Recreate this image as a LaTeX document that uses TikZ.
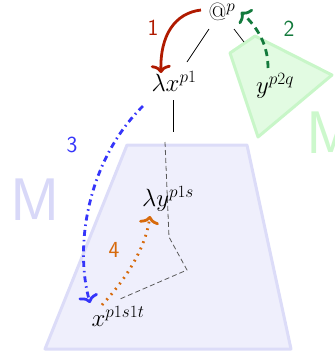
\documentclass[tikz,border=0pt]{standalone}
\usetikzlibrary{arrows.meta}
\definecolor{redA}{HTML}{B01A00}
\definecolor{greenA}{HTML}{137A3C}
\definecolor{blueA}{HTML}{3535FA}
\definecolor{orangeA}{HTML}{D76A0C}
\definecolor{lavFill}{HTML}{EFEFFC}
\definecolor{lavLine}{HTML}{DCDCF8}
\definecolor{lavM}{HTML}{D8D8F8}
\definecolor{grnFill}{HTML}{E2FBE2}
\definecolor{grnLine}{HTML}{C8F6C8}
\definecolor{grnM}{HTML}{CCF8CC}
\tikzset{
  term/.style={inner sep=0pt, font=\fontsize{25}{30}\selectfont},
  numlabel/.style={inner sep=0pt, font=\sffamily\fontsize{23}{27}\selectfont},
  bigM/.style={inner sep=0pt, font=\sffamily\fontsize{60}{60}\selectfont},
  treeedge/.style={black, line width=0.7pt},
  pathedge/.style={black!65, line width=0.8pt, dash pattern=on 5pt off 3pt},
  move/.style={line width=2.8pt, -{To[length=8pt,width=20pt]}},
}
\begin{document}
\begin{tikzpicture}[x=1pt,y=-1pt]
\useasboundingbox (0,0) rectangle (335,360);
% shaded regions
\draw[lavLine, fill=lavFill, line width=3pt, line join=round] (127,145) -- (247,145) -- (291,349) -- (45,349) -- cycle;
\draw[grnLine, fill=grnFill, line width=3pt, line join=round] (230,53) -- (255,36) -- (332,75) -- (258,137) -- cycle;
\node[bigM, text=lavM] (mblue) at (35,200) {M};
\node[bigM, text=grnM, anchor=west] (mgreen) at (306,133) {M};
% terms
\node[term] (at) at (222,12) {$@^p$};
\node[term] (lx) at (174,81) {$\lambda x^{p1}$};
\node[term] (y) at (275,86) {$y^{p2q}$};
\node[term] (ly) at (168,199) {$\lambda y^{p1s}$};
\node[term] (x) at (118,316) {$x^{p1s1t}$};
% tree edges
\draw[treeedge] ([shift={(-13,17)}]at.center) -- ([shift={(13,-19)}]lx.center);
\draw[treeedge] ([shift={(12,17)}]at.center) -- ([shift={(-31,-44)}]y.center);
\draw[treeedge] ([shift={(-1,19)}]lx.center) -- ([shift={(-1,51)}]lx.center);
\coordinate (k1) at (169,237);
\coordinate (k2) at (187,270);
\draw[pathedge] ([shift={(-9,61)}]lx.center) -- (k1) -- (k2) -- ([shift={(2,-17)}]x.center);
% moves
\draw[move, redA] ([shift={(-21,-2)}]at.center) .. controls (175,13) and (160,35) .. ([shift={(-13,-8)}]lx.center);
\draw[move, greenA, dash pattern=on 7pt off 5pt] ([shift={(-7,-18)}]y.center) .. controls (268,45) and (258,28) .. ([shift={(19,0)}]at.center);
\draw[move, blueA, dash pattern=on 6pt off 4pt on 1.5pt off 4pt] ([shift={(-31,25)}]lx.center) .. controls (88,160) and (74,245) .. ([shift={(-28,-13)}]x.center);
\draw[move, orangeA, dash pattern=on 1.8pt off 5pt] ([shift={(-16,-11)}]x.center) .. controls (125,280) and (145,250) .. ([shift={(-18,17)}]ly.center);
% labels
\node[numlabel, text=redA] (n1) at (153,28) {1};
\node[numlabel, text=greenA] (n2) at (289,29) {2};
\node[numlabel, text=blueA] (n3) at (72,145) {3};
\node[numlabel, text=orangeA] (n4) at (114,250) {4};
\end{tikzpicture}
\end{document}
